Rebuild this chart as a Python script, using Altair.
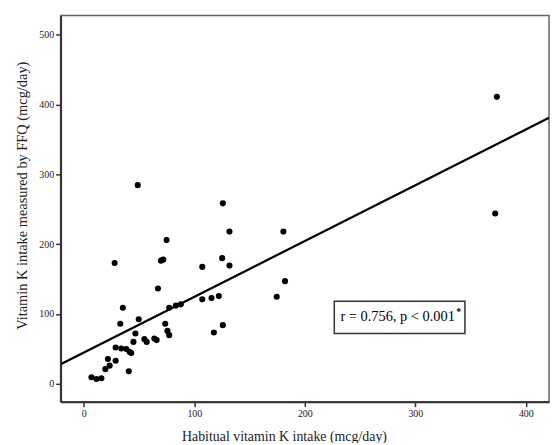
import altair as alt
import pandas as pd

# Habitual vitamin K intake (x) and FFQ-measured vitamin K intake (y), mcg/day
habitual = [6.9, 11.4, 15.9, 19.5, 23.4, 21.8, 28.8, 40.7, 28.8, 33.9,
            38.4, 41.3, 42.9, 44.9, 46.7, 49.7, 33.0, 35.3, 27.9, 48.8,
            54.8, 56.9, 63.8, 65.9, 67.1, 69.8, 71.9, 74.9, 73.7, 75.7,
            77.3, 77.3, 83.3, 87.8, 107.2, 107.2, 115.6, 122.2, 117.7, 125.8,
            125.2, 131.8, 131.8, 125.8, 174.6, 182.1, 180.6, 373.8, 372.3]
ffq = [9.5, 7.0, 8.0, 21.0, 26.0, 35.6, 33.0, 18.0, 52.0, 50.6,
       49.8, 46.0, 44.0, 60.0, 72.0, 92.5, 86.0, 109.0, 173.0, 284.5,
       64.0, 60.0, 65.0, 62.6, 136.6, 176.4, 177.8, 206.0, 86.0, 75.8,
       69.7, 109.0, 112.0, 113.8, 167.4, 121.0, 122.8, 125.6, 73.5, 84.0,
       180.0, 169.3, 218.0, 258.5, 124.7, 147.0, 218.0, 411.0, 244.0]

fit_intercept = 44.7
fit_slope = 0.799

x_ticks = [0, 100, 200, 300, 400]
y_ticks = [0, 100, 200, 300, 400, 500]
x_domain = [-21.0, 421.0]
y_domain = [-25.6, 527.4]

x_title = "Habitual vitamin K intake (mcg/day)"
y_title = "Vitamin K intake measured by FFQ (mcg/day)"
annotation = "r = 0.756, p < 0.001"
annotation_mark = "*"

FONT = "Liberation Serif"

df = pd.DataFrame({"x": habitual, "y": ffq})
line_df = pd.DataFrame({
    "x": x_domain,
    "y": [fit_intercept + fit_slope * v for v in x_domain],
})
note_df = pd.DataFrame({"label": [annotation], "star": [annotation_mark]})

x_axis = alt.Axis(values=x_ticks, title=x_title, grid=False, domain=True,
                  domainColor="#333333", domainWidth=2, tickColor="#333333",
                  tickWidth=1.5, tickSize=5, labelFont=FONT, labelFontSize=10,
                  labelColor="#222222", labelPadding=2, titleFont=FONT,
                  titleFontSize=14, titleFontWeight="normal", titleColor="#222222",
                  titleX=225, titleY=35, titleBaseline="middle", titleAlign="center",
                  format="d")
y_axis = alt.Axis(values=y_ticks, title=y_title, grid=False, domain=True,
                  domainColor="#333333", domainWidth=2, tickColor="#333333",
                  tickWidth=1.5, tickSize=5, labelFont=FONT, labelFontSize=10,
                  labelColor="#222222", labelPadding=2, titleFont=FONT,
                  titleFontSize=14.5, titleFontWeight="normal", titleColor="#222222",
                  titleX=-38, titleY=181, titleBaseline="middle", titleAlign="center",
                  titleAngle=270, format="d")

xs = alt.Scale(domain=x_domain, nice=False, zero=False)
ys = alt.Scale(domain=y_domain, nice=False, zero=False)

points = alt.Chart(df).mark_circle(size=38, color="black", opacity=1).encode(
    x=alt.X("x:Q", scale=xs, axis=x_axis),
    y=alt.Y("y:Q", scale=ys, axis=y_axis),
)

fit = alt.Chart(line_df).mark_line(color="black", strokeWidth=2.2, clip=True).encode(
    x=alt.X("x:Q", scale=xs, axis=x_axis),
    y=alt.Y("y:Q", scale=ys, axis=y_axis),
)

box = alt.Chart(note_df).mark_rect(fill="white", stroke="#333333", strokeWidth=1.5).encode(
    x=alt.value(275.7), x2=alt.value(407.3), y=alt.value(287.7), y2=alt.value(320.3)
)
note = alt.Chart(note_df).mark_text(font=FONT, fontSize=14.5, color="black",
                                     align="center", baseline="middle").encode(
    x=alt.value(339.5), y=alt.value(303.5), text="label:N"
)
star = alt.Chart(note_df).mark_text(font=FONT, fontSize=10, color="black",
                                     fontWeight="bold", align="center",
                                     baseline="middle").encode(
    x=alt.value(401), y=alt.value(299), text="star:N"
)

chart = alt.layer(points, fit, box, note, star).properties(
    width=492, height=389,
    autosize=alt.AutoSizeParams(type="none"),
    padding={"left": 53, "top": 6, "right": 2, "bottom": 40},
    background="white",
).configure_view(stroke="#666666", strokeWidth=1.5)

chart.save("out.html", embed_options={"renderer": "svg", "actions": False})
